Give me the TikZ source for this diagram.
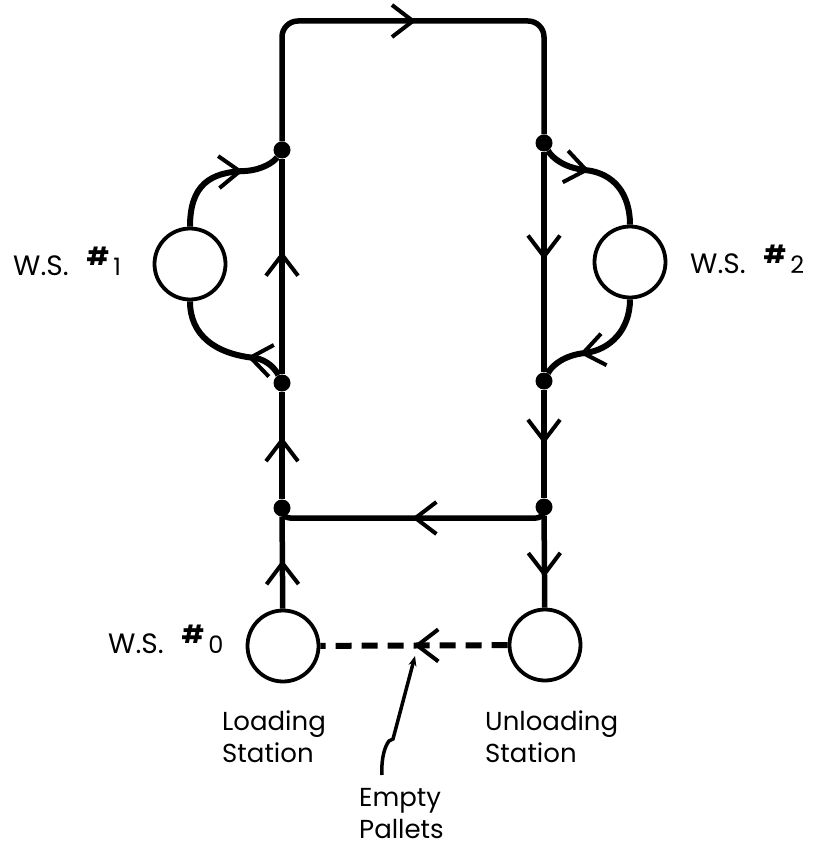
\documentclass[tikz,border=0pt]{standalone}
\usepackage{fontspec}
\setmainfont{Poppins}
\usetikzlibrary{arrows.meta,decorations.markings}
\newcommand\wslab[1]{W.S.\hspace{18pt}\raisebox{10pt}{\fontsize{25}{25}\selectfont\bfseries\#}\hspace{4pt}{\fontsize{24}{24}\selectfont #1}}
\tikzset{
  chev/.tip={Straight Barb[length=21pt,width=32pt,line width=4pt]},
  flow/.style={line width=5.5pt, line join=round},
  arcflow/.style={line width=6pt},
  ar/.style={postaction={decorate,decoration={markings,mark=at position #1 with {\arrow{chev}}}}},
  junction/.style={circle, fill=black, inner sep=0pt, minimum size=17pt},
  station/.style={circle, draw, line width=3.8pt, minimum size=71pt, inner sep=0pt, fill=white},
  lbl/.style={font=\fontsize{26}{32}\selectfont, inner sep=0pt, align=left},
  wlbl/.style={font=\fontsize{28}{32}\selectfont, inner sep=0pt},
}
\begin{document}
\begin{tikzpicture}[x=1pt,y=-1pt]
\useasboundingbox (0,0) rectangle (823,848);
% stations
\node[station] (ws1) at (190,264) {};
\node[station] (ws2) at (630,262) {};
\node[station] (ws0) at (283,646) {};
\node[station] (un)  at (545,645) {};
% junctions
\node[junction] (A1) at (282,150) {};
\node[junction] (A2) at (282,383) {};
\node[junction] (A3) at (282,508) {};
\node[junction] (B1) at (544,143) {};
\node[junction] (B2) at (544,381) {};
\node[junction] (B3) at (544,507) {};
\coordinate (TL) at (282,21);
\coordinate (TR) at (544,21);
\coordinate (ML) at (282,518);
\coordinate (MR) at (544,518);
% main loop
\draw[flow, ar=0.53] (ws0) -- (A3);
\draw[flow, ar=0.58] (A3) -- (A2);
\draw[flow, ar=0.57] (A2) -- (A1);
\draw[flow, rounded corners=16, ar=0.514] (A1) -- (TL) -- (TR) -- (B1);
\draw[flow, ar=0.49] (B1) -- (B2);
\draw[flow, ar=0.5] (B2) -- (B3);
\draw[flow, ar=0.67] (B3) -- (un);
\draw[flow, rounded corners=8, ar=0.505] (B3.center) -- (MR) -- (ML) -- (A3.center);
% by-pass arcs
\draw[arcflow, ar=0.7] (ws1.north) .. controls (190,185) and (210,172) .. (245,171) .. controls (262,170) and (274,162) .. (A1);
\draw[arcflow, ar=0.3] (A2) .. controls (276,370) and (268,360) .. (255,358) .. controls (215,354) and (190,335) .. (ws1.south);
\draw[arcflow, ar=0.39] (B1) .. controls (552,158) and (565,168) .. (585,170) .. controls (615,173) and (630,195) .. (ws2.north);
\draw[arcflow, ar=0.68] (ws2.south) .. controls (630,330) and (610,350) .. (585,353) .. controls (565,355) and (552,365) .. (B2);
% empty pallets return
\draw[line width=6pt, line cap=butt, dash pattern=on 16pt off 10pt, ar=0.5] (un) -- (ws0);
\coordinate (EPt) at (415,656);
\coordinate (EPs) at (382,775);
\draw[line width=3.5pt, -{Stealth[length=10pt,width=8pt]}] (EPs) .. controls (381,758) and (385,746) .. (389,741) -- (393,739) -- (EPt);
% labels
\node[wlbl, anchor=base west] (l1) at (13,275) {\wslab{1}};
\node[wlbl, anchor=base west] (l2) at (690,273) {\wslab{2}};
\node[wlbl, anchor=base west] (l0) at (108,653) {\wslab{0}};
\node[lbl, anchor=base west] (load) at (222,762) {Loading\\Station};
\node[lbl, anchor=base west] (unload) at (485,762) {Unloading\\Station};
\node[lbl, anchor=base west] (empty) at (359,838) {Empty\\Pallets};
\end{tikzpicture}
\end{document}
